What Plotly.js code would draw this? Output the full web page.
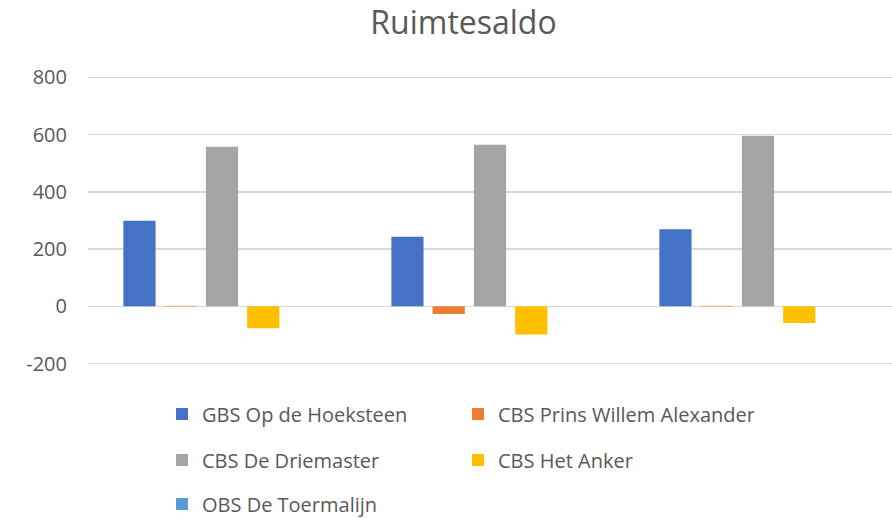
<!DOCTYPE html>
<html>
<head>
<meta charset="utf-8">
<script src="https://cdn.plot.ly/plotly-3.0.1.min.js"></script>
<style>html,body{margin:0;padding:0;background:#fff;}#chart{width:892px;height:518px;}</style>
</head>
<body>
<div id="chart"></div>
<script>
const categories = ['1', '2', '3'];
const seriesNames = ['GBS Op de Hoeksteen', 'CBS Prins Willem Alexander', 'CBS De Driemaster', 'CBS Het Anker', 'OBS De Toermalijn'];
const gbsHoeksteen = [299, 243, 269];
const cbsPrinsWillemAlexander = [2, -27, 2];
const cbsDriemaster = [558, 565, 596];
const cbsHetAnker = [-77, -98, -58];
const obsToermalijn = [0, 0, 0];
const yTicks = [-200, 0, 200, 400, 600, 800];

const seriesValues = [gbsHoeksteen, cbsPrinsWillemAlexander, cbsDriemaster, cbsHetAnker, obsToermalijn];
const colors = ['#4472C4', '#ED7D31', '#A5A5A5', '#FFC000', '#5B9BD5'];
const legendIds = ['legend', 'legend', 'legend2', 'legend2', 'legend3'];

const traces = seriesNames.map((name, i) => ({
  type: 'bar',
  name: name,
  x: categories,
  y: seriesValues[i],
  marker: {color: colors[i], line: {width: 0}},
  legend: legendIds[i],
  hoverinfo: 'skip'
}));

const font = {family: '"Open Sans", "Noto Sans", sans-serif', color: '#595959'};
function legendAt(yPx) {
  return {
    orientation: 'h',
    xref: 'container', yref: 'container',
    x: 162 / 892, xanchor: 'left',
    y: 1 - yPx / 518, yanchor: 'middle',
    entrywidth: 251, entrywidthmode: 'pixels',
    font: Object.assign({}, font, {size: 20}),
    bgcolor: 'rgba(0,0,0,0)', borderwidth: 0,
    traceorder: 'normal'
  };
}

const layout = {
  width: 892, height: 518,
  paper_bgcolor: '#ffffff', plot_bgcolor: '#ffffff',
  margin: {l: 88, r: 0, t: 76, b: 153, pad: 0},
  font: font,
  title: {
    text: 'Ruimtesaldo',
    font: Object.assign({}, font, {size: 32}),
    xref: 'container', yref: 'container',
    x: 463.5 / 892, xanchor: 'center',
    y: 1 - 23 / 518, yanchor: 'middle'
  },
  barmode: 'group',
  bargap: 0.23,
  bargroupgap: 0.22,
  xaxis: {
    type: 'category',
    showticklabels: false, ticks: '', showgrid: false, zeroline: false, showline: false
  },
  yaxis: {
    range: [-205, 805],
    tickvals: yTicks,
    ticktext: yTicks.map(String),
    tickfont: Object.assign({}, font, {size: 20}),
    ticks: '', ticklabelstandoff: 20,
    showgrid: true, gridcolor: '#D9D9D9', gridwidth: 1.3,
    zeroline: true, zerolinecolor: '#D9D9D9', zerolinewidth: 1.3,
    showline: false
  },
  showlegend: true,
  legend: legendAt(414),
  legend2: legendAt(460),
  legend3: legendAt(504)
};

Plotly.newPlot('chart', traces, layout, {displayModeBar: false, staticPlot: true});
</script>
</body>
</html>
